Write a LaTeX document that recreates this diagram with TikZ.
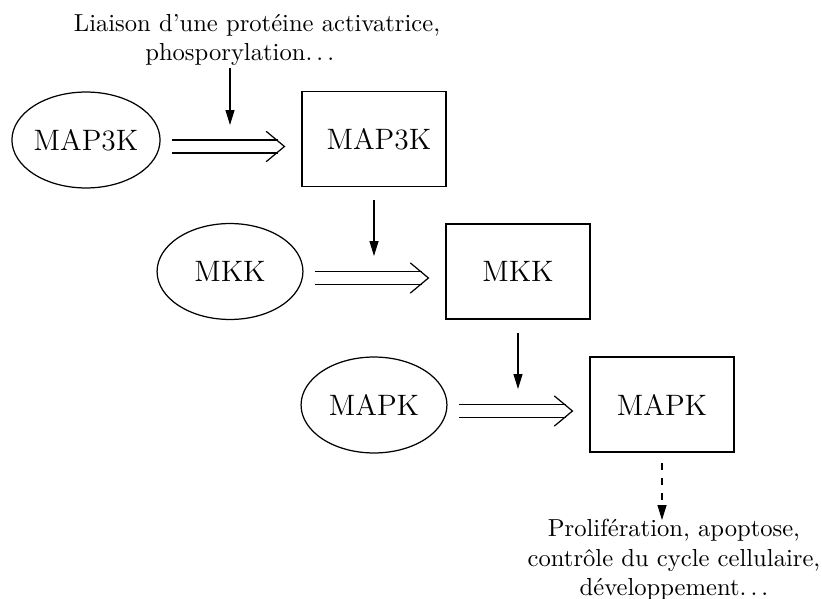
\documentclass[tikz,border=0pt]{standalone}
\usetikzlibrary{arrows.meta,shapes.geometric,calc}
\begin{document}
\begin{tikzpicture}[x=0.4065pt,y=-0.4065pt,line width=0.5pt,
  inact/.style={draw,ellipse,minimum width=59.3pt,minimum height=39pt,inner sep=0pt,font=\large},
  act/.style={draw,rectangle,minimum width=58.5pt,minimum height=38.6pt,inner sep=0pt,font=\large},
  conv/.style={double,double distance=4.8pt,shorten <=4.5pt,shorten >=9.5pt},
  chev/.style={line cap=round,line join=miter},
  sig/.style={-{Triangle[length=6pt,width=3.6pt]}},
  lbl/.style={align=center,inner sep=0pt}]
\useasboundingbox (0,0) rectangle (822,599);
\node[lbl] (top) at (257,40) {Liaison d'une protéine activatrice,\\phosporylation$\ldots$\rule{14pt}{0pt}};
\node[inact] (e1) at (86,140) {MAP3K};
\node[act] (b1) at (374,139) {\hspace{4pt}MAP3K};
\node[inact] (e2) at (230,271.5) {MKK};
\node[act] (b2) at (518,271.5) {MKK};
\node[inact] (e3) at (374,405) {MAPK};
\node[act] (b3) at (662,404.5) {MAPK};
\node[lbl] (bot) at (674,560) {Prolifération, apoptose,\\contrôle du cycle cellulaire,\\développement$\ldots$};
\coordinate (a1s) at (230,68);
\coordinate (a1e) at (230,125);
\coordinate (a2s) at (374,200);
\coordinate (a2e) at (374,256);
\coordinate (a3s) at (518,333);
\coordinate (a3e) at (518,389);
\coordinate (a4s) at (662,463);
\coordinate (a4e) at (662,520);
\coordinate (t1) at ($(b1.west |- 0,146.5)+(-17,0)$);
\coordinate (t2) at ($(b2.west |- 0,278)+(-17,0)$);
\coordinate (t3) at ($(b3.west |- 0,411)+(-17,0)$);
\draw[conv] (e1.east |- 0,146.5) -- (b1.west |- 0,146.5);
\draw[conv] (e2.east |- 0,278) -- (b2.west |- 0,278);
\draw[conv] (e3.east |- 0,411) -- (b3.west |- 0,411);
\draw[chev] ($(t1)+(-18,-15)$) -- (t1) -- ($(t1)+(-18,15)$);
\draw[chev] ($(t2)+(-18,-15)$) -- (t2) -- ($(t2)+(-18,15)$);
\draw[chev] ($(t3)+(-18,-15)$) -- (t3) -- ($(t3)+(-18,15)$);
\draw[sig] (a1s) -- (a1e);
\draw[sig] (a2s) -- (a2e);
\draw[sig] (a3s) -- (a3e);
\draw[sig,dashed] (a4s) -- (a4e);
\end{tikzpicture}
\end{document}
